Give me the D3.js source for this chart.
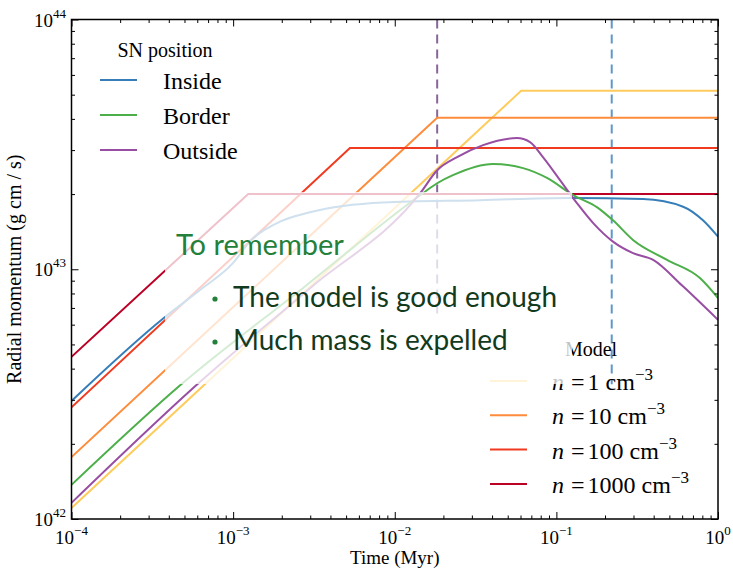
<!DOCTYPE html>
<html>
<head>
<meta charset="utf-8">
<script src="https://cdn.jsdelivr.net/npm/d3@7"></script>
<style>
  body { margin: 0; background: #fff; }
  text { font-family: "Liberation Serif", "DejaVu Serif", serif; }
</style>
</head>
<body>
<svg id="chart" width="733" height="568"></svg>
<script>
// Axis domains and tick labels
const timeDomain = [1e-4, 1];
const momentumDomain = [1e42, 1e44];
const xMajorTicks = [1e-4, 1e-3, 1e-2, 1e-1, 1];
const xTickExponents = ["\u22124", "\u22123", "\u22122", "\u22121", "0"];
const yMajorTicks = [1e42, 1e43, 1e44];
const yTickExponents = ["42", "43", "44"];

// Analytic model: power-law growth, then a plateau (one per ambient density)
const modelDensities = ["1", "10", "100", "1000"];
const modelColors = ["#fecc5c", "#fd8d3c", "#f03b20", "#bd0026"];
const modelTimes = [
  [1e-4, 6.05e-2, 1],
  [1e-4, 1.83e-2, 1],
  [1e-4, 5.28e-3, 1],
  [1e-4, 1.24e-3, 1]
];
const modelMomenta = [
  [1.107e42, 5.18e43, 5.18e43],
  [1.77e42, 4.04e43, 4.04e43],
  [2.80e42, 3.06e43, 3.06e43],
  [4.46e42, 2.00e43, 2.00e43]
];

// Simulations by supernova position
const snPositions = ["Inside", "Border", "Outside"];
const snColors = ["#377eb8", "#4daf4a", "#984ea3"];
const insideTime = [1e-4, 3.79e-4, 6.24e-4, 1e-3, 1.27e-3, 1.95e-3, 2.99e-3, 8.47e-3, 3.37e-2, 0.1216, 0.344, 0.608, 0.807, 1];
const insideMomentum = [2.97e42, 6.44e42, 8.26e42, 1.06e43, 1.29e43, 1.55e43, 1.69e43, 1.85e43, 1.89e43, 1.93e43, 1.91e43, 1.78e43, 1.57e43, 1.35e43];
const borderTime = [1e-4, 4.9e-4, 2.7e-3, 1.5e-2, 1.83e-2, 2.29e-2, 4.05e-2, 6.22e-2, 8.75e-2, 0.127, 0.179, 0.224, 0.298, 0.484, 0.776, 1];
const borderMomentum = [1.37e42, 3.51e42, 8.4e42, 2.02e43, 2.21e43, 2.38e43, 2.64e43, 2.54e43, 2.32e43, 1.98e43, 1.77e43, 1.57e43, 1.31e43, 1.09e43, 9.2e42, 7.67e42];
const outsideTime = [1e-4, 6.15e-4, 2.99e-3, 1.44e-2, 1.83e-2, 2.43e-2, 3.52e-2, 5.7e-2, 6.87e-2, 8.26e-2, 0.105, 0.134, 0.169, 0.224, 0.298, 0.397, 0.6, 1];
const outsideMomentum = [1.16e42, 3.51e42, 8.4e42, 2.02e43, 2.49e43, 2.81e43, 3.14e43, 3.35e43, 3.23e43, 2.81e43, 2.28e43, 1.84e43, 1.53e43, 1.29e43, 1.16e43, 1.09e43, 8.6e42, 6.27e42];

// Characteristic times marked with dashed verticals
const markerTimes = [1.83e-2, 0.22];
const markerColors = ["#86679a", "#5f97c9"];
const markerBottoms = [0.40, 0.27];

// Note box text
const noteTitle = "To remember";
const noteBullets = ["The model is good enough", "Much mass is expelled"];

const svg = d3.select("#chart");
const m = { left: 71.5, right: 718, top: 19.5, bottom: 519 };

const x = d3.scaleLog().domain(timeDomain).range([m.left, m.right]);
const y = d3.scaleLog().domain(momentumDomain).range([m.bottom, m.top]);

const plot = svg.append("g");
plot.append("clipPath").attr("id", "clip")
  .append("rect").attr("x", m.left).attr("y", m.top)
  .attr("width", m.right - m.left).attr("height", m.bottom - m.top);

const line = d3.line().x(d => x(d[0])).y(d => y(d[1]));
const smooth = d3.line().x(d => x(d[0])).y(d => y(d[1])).curve(d3.curveMonotoneX);

const curves = plot.append("g").attr("clip-path", "url(#clip)");

// dashed markers
markerTimes.forEach((t, i) => {
  curves.append("line")
    .attr("x1", x(t)).attr("x2", x(t))
    .attr("y1", m.top).attr("y2", m.bottom - markerBottoms[i] * (m.bottom - m.top))
    .attr("stroke", markerColors[i])
    .attr("stroke-width", 2).attr("stroke-dasharray", "9,6");
});

// model lines
modelTimes.forEach((ts, i) => {
  curves.append("path")
    .datum(ts.map((t, j) => [t, modelMomenta[i][j]]))
    .attr("d", line).attr("fill", "none")
    .attr("stroke", modelColors[i]).attr("stroke-width", 2);
});

// simulation curves
[[insideTime, insideMomentum], [borderTime, borderMomentum], [outsideTime, outsideMomentum]]
  .forEach(([ts, ps], i) => {
    curves.append("path")
      .datum(ts.map((t, j) => [t, ps[j]]))
      .attr("d", smooth).attr("fill", "none")
      .attr("stroke", snColors[i]).attr("stroke-width", 2);
  });

// axes: major + minor ticks pointing inward on all four sides
function minorTicks(domain) {
  const out = [];
  const lo = Math.round(Math.log10(domain[0])), hi = Math.round(Math.log10(domain[1]));
  for (let e = lo; e < hi; e++) for (let k = 2; k <= 9; k++) out.push(k * Math.pow(10, e));
  return out;
}
const xMinor = minorTicks(timeDomain), yMinor = minorTicks(momentumDomain);

function drawAxis(gen, scale, majors, minors, transform) {
  const g = svg.append("g").attr("transform", transform);
  g.call(gen(scale).tickValues(majors).tickSize(-7).tickFormat(""));
  g.append("g").call(gen(scale).tickValues(minors).tickSize(-3.5).tickFormat(""));
  g.selectAll(".domain").remove();
  g.selectAll("line").attr("stroke", "#000").attr("stroke-width", 1);
  return g;
}
drawAxis(d3.axisBottom, x, xMajorTicks, xMinor, `translate(0,${m.bottom})`);
drawAxis(d3.axisTop, x, xMajorTicks, xMinor, `translate(0,${m.top})`);
drawAxis(d3.axisLeft, y, yMajorTicks, yMinor, `translate(${m.left},0)`);
drawAxis(d3.axisRight, y, yMajorTicks, yMinor, `translate(${m.right},0)`);

svg.append("rect")
  .attr("x", m.left).attr("y", m.top)
  .attr("width", m.right - m.left).attr("height", m.bottom - m.top)
  .attr("fill", "none").attr("stroke", "#000").attr("stroke-width", 1.5);

// tick labels with superscript exponents
xMajorTicks.forEach((t, i) => {
  const tx = svg.append("text").attr("x", x(t)).attr("y", 544)
    .attr("text-anchor", "middle").attr("font-size", 19).attr("fill", "#000");
  tx.append("tspan").text("10");
  tx.append("tspan").attr("font-size", 13).attr("dy", -9).text(xTickExponents[i]);
});
yMajorTicks.forEach((p, i) => {
  const ty = svg.append("text").attr("x", 66).attr("y", y(p) + 7)
    .attr("text-anchor", "end").attr("font-size", 19).attr("fill", "#000");
  ty.append("tspan").text("10");
  ty.append("tspan").attr("font-size", 13).attr("dy", -9).text(yTickExponents[i]);
});

svg.append("text").attr("x", (m.left + m.right) / 2).attr("y", 564)
  .attr("text-anchor", "middle").attr("font-size", 19).text("Time (Myr)");
svg.append("text").attr("transform", `translate(21,${(m.top + m.bottom) / 2}) rotate(-90)`)
  .attr("text-anchor", "middle").attr("font-size", 20).text("Radial momentum (g cm / s)");

// legend: SN position
const leg1 = svg.append("g");
leg1.append("text").attr("x", 165).attr("y", 57).attr("text-anchor", "middle")
  .attr("font-size", 20).text("SN position");
snPositions.forEach((name, i) => {
  const yy = 80 + i * 35;
  leg1.append("line").attr("x1", 100).attr("x2", 137).attr("y1", yy).attr("y2", yy)
    .attr("stroke", snColors[i]).attr("stroke-width", 2);
  leg1.append("text").attr("x", 163).attr("y", yy + 9).attr("font-size", 24).text(name);
});

// legend: Model
const leg2 = svg.append("g");
leg2.append("text").attr("x", 591).attr("y", 356).attr("text-anchor", "middle")
  .attr("font-size", 20).text("Model");
modelDensities.forEach((n, i) => {
  const yy = 381 + i * 34.3;
  leg2.append("line").attr("x1", 490).attr("x2", 527).attr("y1", yy).attr("y2", yy)
    .attr("stroke", modelColors[i]).attr("stroke-width", 2);
  const t = leg2.append("text").attr("x", 552).attr("y", yy + 9).attr("font-size", 24);
  t.append("tspan").attr("font-style", "italic").text("n");
  t.append("tspan").attr("dx", 7).text("=");
  t.append("tspan").attr("dx", 3).text(n + " cm");
  t.append("tspan").attr("font-size", 17).attr("dy", -10).text("\u22123");
});

// translucent note box laid over the chart
const note = svg.append("g");
note.append("rect").attr("x", 165).attr("y", 192).attr("width", 407).attr("height", 192)
  .attr("fill", "#fff").attr("fill-opacity", 0.76);
note.append("text").attr("x", 176).attr("y", 255)
  .style("font-family", "Lato, 'Open Sans', sans-serif")
  .attr("font-size", 29).attr("fill", "#23803a").text(noteTitle);
noteBullets.forEach((b, i) => {
  const by = 307 + i * 43;
  note.append("circle").attr("cx", 215).attr("cy", by - 8).attr("r", 2.6).attr("fill", "#23803a");
  note.append("text").attr("x", 233).attr("y", by)
    .style("font-family", "Lato, 'Open Sans', sans-serif")
    .attr("font-size", 28).attr("fill", "#123a1c").text(b);
});
</script>
</body>
</html>
